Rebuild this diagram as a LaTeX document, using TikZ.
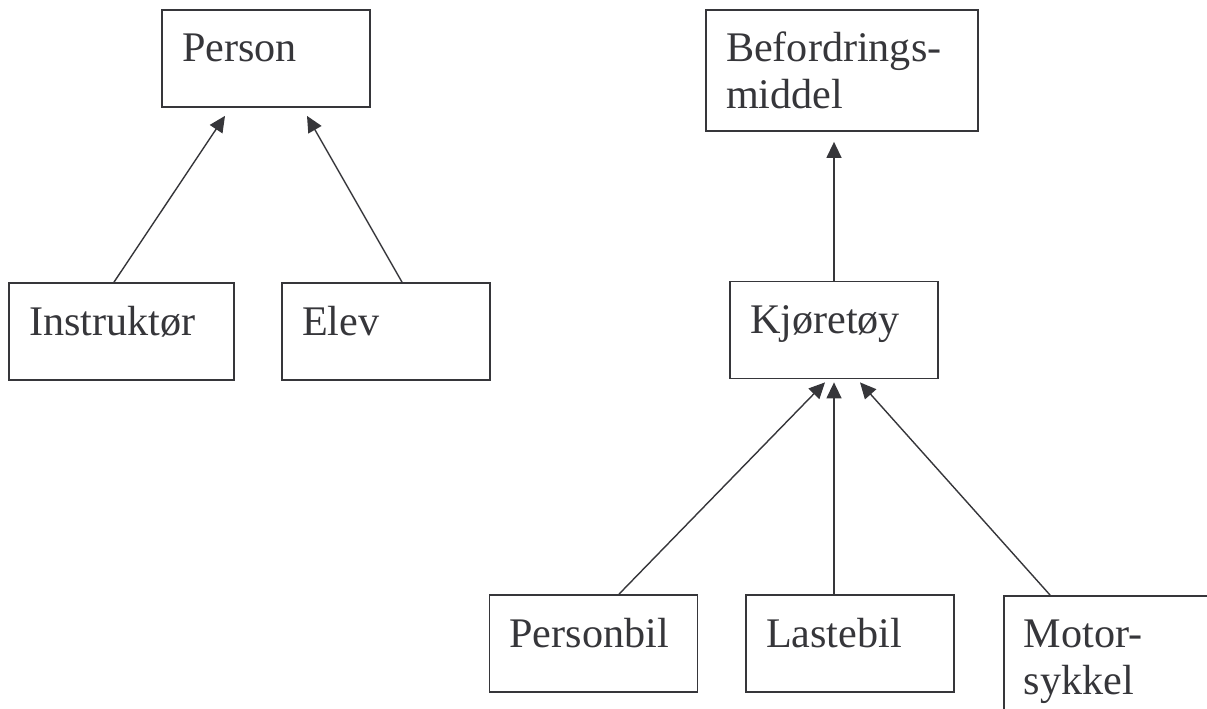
\documentclass[tikz,border=0pt]{standalone}
\usepackage{fontspec}
\setmainfont{Liberation Serif}
\usepackage{tikz}
\usetikzlibrary{arrows.meta}
\usetikzlibrary{calc}
\definecolor{strek}{RGB}{54,54,58}
\tikzstyle{klasse}=[
        rectangle,
        draw=strek,
        line width=1pt,
        text=strek,
        align=left,
        inner xsep=0.4cm,
        inner ysep=0pt,
        text width=3.36cm,
        text height=1.04cm,
        text depth=0.9cm,
        font=\fontsize{24}{26.7}\selectfont
]
\tikzstyle{arv}=[-{Triangle[length=0.32cm,width=0.3cm]},color=strek,line width=0.8pt]

\begin{document}
\begin{tikzpicture}
\useasboundingbox (0,0) rectangle (24.14,-14.18);
%personer
\node[klasse] (person) at (5.32,-1.17) {Person};
\node[klasse,text width=3.7cm] (instr) at (2.43,-6.63) {Instruktør};
\node[klasse] (elev) at (7.72,-6.63) {Elev};
%kjoretoy
\node[klasse,text width=4.64cm,text depth=1.38cm] (befordring) at (16.84,-1.41) {Befordrings-\\middel};
\node[klasse] (kjoretoy) at (16.68,-6.6) {Kjøretøy};
\node[klasse] (personbil) at (11.87,-12.87) {Personbil};
\node[klasse] (lastebil) at (17.0,-12.87) {Lastebil};
\node[klasse,text depth=1.38cm,anchor=north west] (motor) at (20.06,-11.9) {Motor-\\sykkel};
%arv
\draw[arv] ([xshift=-0.15cm]instr.north) -- ($(person.south)+(-0.82,-0.16)$);
\draw[arv] ([xshift=0.32cm]elev.north) -- ($(person.south)+(0.82,-0.16)$);
\draw[arv] (kjoretoy.north) -- ($(befordring.south)+(-0.16,-0.2)$);
\draw[arv] ([xshift=0.51cm]personbil.north) -- ($(kjoretoy.south)+(-0.18,-0.06)$);
\draw[arv] ([xshift=-0.32cm]lastebil.north) -- ($(kjoretoy.south)+(0,-0.06)$);
\draw[arv] ([xshift=0.94cm]motor.north west) -- ($(kjoretoy.south)+(0.52,-0.06)$);
\end{tikzpicture}
\end{document}
